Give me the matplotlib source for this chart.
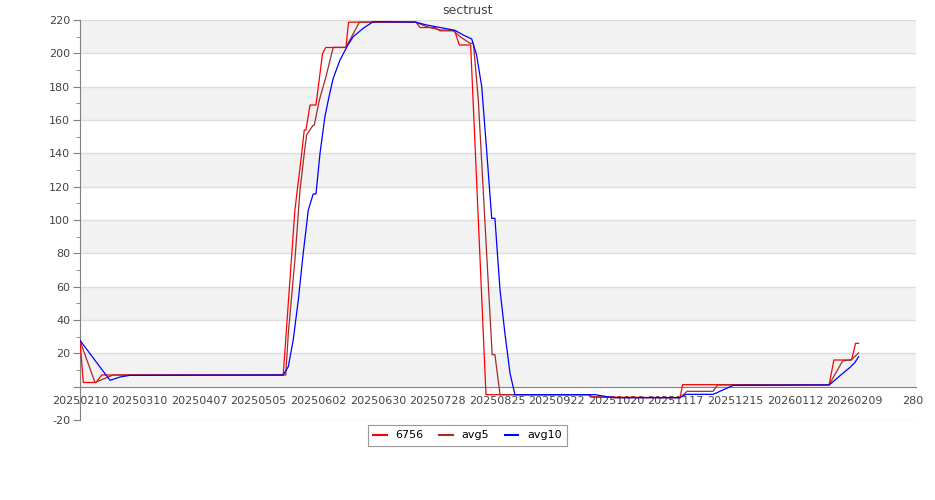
import matplotlib
matplotlib.use("Agg")
import matplotlib.pyplot as plt
from matplotlib.ticker import FixedLocator, FixedFormatter, MultipleLocator

# x values: days since 2025-02-10
red_x = [0, 1.55, 7.52, 10.2, 95.5, 101.0, 104.2, 105.4, 106.2, 108.1, 110.9, 114.0, 115.5,
         125.0, 126.2, 157.9, 159.8, 166.8, 169.2, 175.4, 176.2, 178.3, 183.6, 190.8, 239.0,
         239.9, 282.0, 283.2, 352.1, 354.3, 362.6, 364.5, 365.9]
red_y = [27.5, 2.5, 2.5, 7, 7, 106, 140, 154, 154, 169, 169, 200, 203.5,
         203.5, 218.7, 218.7, 215.5, 215.5, 213.5, 213.5, 213, 205, 205, -4.8, -4.8,
         -6.2, -6.6, 1.2, 1.2, 16, 16, 26, 26]

avg5_x = [0, 7.05, 15.5, 96.7, 97.9, 101.0, 103.4, 105.4, 106.5, 109.4, 110.1, 112.5, 115.6,
          119.0, 125.0, 131.3, 157.9, 162.9, 169.2, 175.3, 178.6, 183.3, 184.9, 187.2, 193.7,
          195.0, 197.4, 239.2, 240.6, 250.9, 282.0, 285.3, 297.5, 299.6, 352.1, 358.4, 362.6, 365.9]
avg5_y = [27.5, 2.5, 7, 7, 32, 76, 118, 140, 151, 156.6, 157, 172, 186,
          203.6, 203.6, 218.7, 218.7, 216, 214, 213.8, 210, 206, 206, 172, 19.2,
          19.2, -4.8, -4.8, -6, -6.6, -6.6, -2.8, -2.8, 1.0, 1.2, 15.4, 16.2, 20.2]

avg10_x = [0, 14.1, 18.8, 23.5, 95.5, 97.9, 100.2, 102.6, 104.9, 107.3, 109.6, 110.9, 112.8,
           115.1, 117.2, 119.0, 122.2, 125.9, 128.4, 133.1, 137.8, 157.4, 162.9, 169.2, 176.2,
           180.1, 184.1, 186.4, 188.8, 191.1, 193.5, 195.0, 197.4, 199.7, 202.1, 204.4, 242.0,
           247.7, 251.5, 282.0, 284.8, 297.6, 307.0, 352.1, 357.1, 361.8, 364.2, 365.9]
avg10_y = [27.8, 3.8, 5.8, 6.8, 7, 12, 28, 52, 80, 106, 115.6, 115.6, 140,
           162, 175, 185, 196, 205, 210, 215, 219, 218.8, 217, 215.5, 213.8,
           211, 208.6, 199, 180, 142, 101, 101, 58, 32, 8, -4.8, -4.8,
           -6, -6.6, -6.6, -4.6, -4.6, 0.8, 1.0, 6.5, 11.5, 14.5, 18]

tick_days = [0, 28, 56, 84, 112, 140, 168, 196, 224, 252, 280, 308, 336, 364, 391.5]
tick_labels = ["20250210", "20250310", "20250407", "20250505", "20250602", "20250630",
               "20250728", "20250825", "20250922", "20251020", "20251117", "20251215",
               "20260112", "20260209", "280"]

y_ticks = list(range(-20, 221, 20))
y_labels = ["" if v == 0 else str(v) for v in y_ticks]

fig = plt.figure(figsize=(9.35, 5.0), dpi=100)
ax = fig.add_axes([80 / 935, 80 / 500, 836 / 935, 400 / 500])
ax.set_xlim(0, 392.9)
ax.set_ylim(-20, 220)

# alternating bands
for lo in range(0, 220, 40):
    ax.axhspan(lo, lo + 20, color="#f2f2f2", zorder=0, lw=0)
for v in y_ticks:
    if v != 0:
        ax.axhline(v, color="#dddddd", lw=1.0, zorder=0.5)

ax.plot(red_x, red_y, color="#ff0000", lw=0.9, label="6756", zorder=3)
ax.plot(avg5_x, avg5_y, color="#a52a2a", lw=0.9, label="avg5", zorder=3)
ax.plot(avg10_x, avg10_y, color="#0000ff", lw=0.9, label="avg10", zorder=3)

for s in ["top", "right"]:
    ax.spines[s].set_visible(False)
ax.spines["left"].set_color("#808080")
ax.spines["bottom"].set_position(("data", 0))
ax.spines["bottom"].set_color("#808080")
ax.spines["bottom"].set_zorder(2)

ax.yaxis.set_major_locator(FixedLocator(y_ticks))
ax.yaxis.set_major_formatter(FixedFormatter(y_labels))
ax.yaxis.set_minor_locator(MultipleLocator(10))
ax.tick_params(axis="y", which="major", length=5, color="#808080", labelsize=8,
               labelcolor="#444444", pad=2)
ax.tick_params(axis="y", which="minor", length=3, color="#808080")

ax.xaxis.set_major_locator(FixedLocator(tick_days))
ax.xaxis.set_major_formatter(FixedFormatter(tick_labels))
ax.tick_params(axis="x", length=0, labelsize=8, labelcolor="#444444", pad=7)

fig.text(467.5 / 935, 1 - 10 / 500, "sectrust", ha="center", va="center",
         fontsize=9, color="#444444")

leg = fig.legend(loc="center", bbox_to_anchor=(467.5 / 935, 1 - 435.5 / 500), ncol=3,
                 fontsize=8, frameon=True, fancybox=False, handlelength=1.2,
                 columnspacing=1.4, handletextpad=0.8, borderpad=0.5)
leg.get_frame().set_edgecolor("#808080")
leg.get_frame().set_linewidth(0.8)
for h in leg.get_lines():
    h.set_linewidth(1.5)

fig.savefig("out.png", dpi=100)
